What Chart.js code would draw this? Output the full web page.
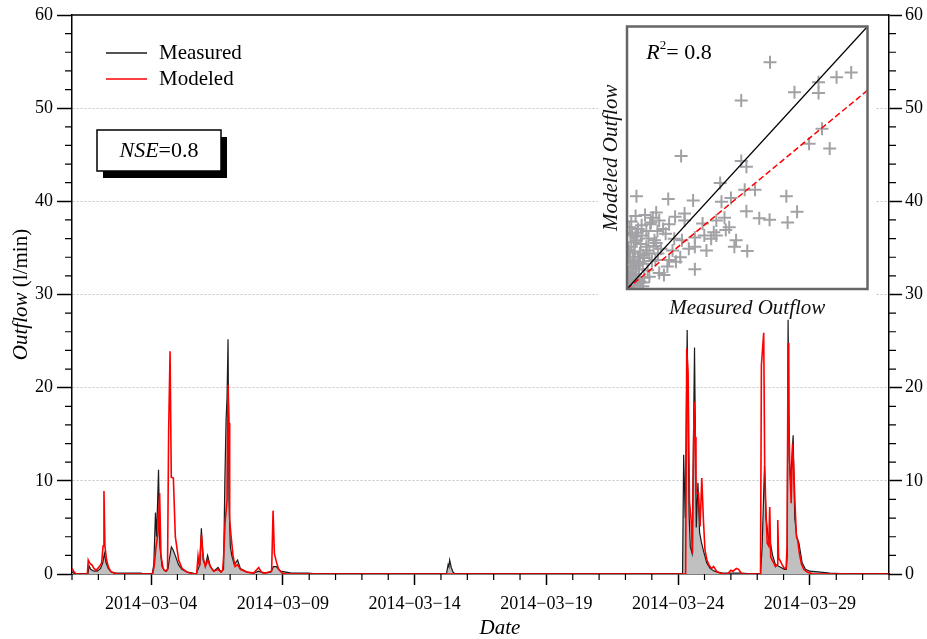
<!DOCTYPE html>
<html>
<head>
<meta charset="utf-8">
<script src="https://cdn.jsdelivr.net/npm/chart.js@4.4.1/dist/chart.umd.min.js"></script>
<style>
  html, body { margin: 0; padding: 0; background: #fff; }
  #wrap { position: relative; width: 927px; height: 639px; }
  #main { position: absolute; left: 0; top: 0; }
  #inset { position: absolute; left: 598px; top: 18px; background: #fff; }
</style>
</head>
<body>
<div id="wrap">
  <canvas id="main" width="927" height="639"></canvas>
  <canvas id="inset" width="278" height="301"></canvas>
</div>
<script>
// hours since 2014-03-01 00:00
const measuredHours = [0, 3, 14.5, 15.5, 17, 20, 23, 26, 28, 29.5, 31, 33, 36, 40, 62, 68,
  73, 74.5, 76, 77, 78.8, 80, 82, 84, 86, 87.5, 88.5, 90.5, 92, 94, 97, 100, 105, 110,
  113, 116.5, 117.8, 119.5, 121.5, 123.5, 126, 129, 133, 135.7, 138, 139.2, 140.3, 141.2, 142.1,
  143, 144.2, 145.7, 147.8, 150.8, 153.3, 159.4, 165.4, 170, 174.5, 181, 183.5, 186, 190, 200, 215, 225,
  341, 342.5, 343.2, 343.9, 345.4, 347, 349,
  556, 557, 558.5, 560.2, 562, 563.1, 564.7, 566.9, 568.5, 570, 571.5, 573, 575, 578, 581, 585, 592, 600, 610, 620,
  627, 628.5, 630.6, 632, 634, 636, 638, 640.6, 644, 648.8, 650.5, 651.3, 652.1, 653.3, 654.4, 656.7,
  658.2, 660, 662, 664.9, 667.9, 672, 681.5, 690, 700, 706, 744];
const measuredFlow = [0.2, 0, 0, 0.9, 0.5, 0.3, 0.3, 0.6, 1.2, 2.2, 1.2, 0.6, 0.2, 0.1, 0.1, 0,
  0, 1.0, 6.6, 4.0, 11.2, 3.0, 0.8, 0.4, 0.3, 0.6, 1.5, 2.9, 2.6, 2.0, 1.0, 0.5, 0.2, 0.1,
  0, 1.0, 4.9, 1.5, 0.9, 2.0, 0.8, 0.3, 0.7, 0.2, 0.5, 9.9, 16.5, 19.0, 25.2,
  8.0, 2.9, 1.9, 1.0, 1.5, 0.6, 0.2, 0.1, 0.3, 0.1, 0.2, 0.8, 0.8, 0.3, 0.1, 0.1, 0,
  0, 1.0, 0.8, 1.5, 0.7, 0.2, 0,
  0, 12.8, 6.0, 26.2, 6.2, 2.9, 2.2, 24.3, 5.0, 9.8, 4.5, 3.5, 2.5, 1.2, 0.6, 0.3, 0.1, 0.1, 0.1, 0,
  0, 3.0, 11.6, 6.0, 4.0, 3.3, 2.0, 1.0, 0.8, 0.5, 0.5, 2.0, 27.3, 12.2, 9.8, 14.9,
  6.0, 4.0, 3.3, 1.2, 0.5, 0.3, 0.2, 0.1, 0.05, 0, 0];

const modeledHours = [0, 2, 4, 14, 14.8, 16.5, 18, 20, 22, 25, 27, 28.3, 29.1, 30, 31.5, 33, 35, 38, 42,
  73.5, 75, 76.5, 78.5, 79.8, 81, 83, 85, 87, 88, 89.3, 90.4, 92.3, 94.1, 97.1, 100.2, 104.7, 110,
  113.5, 114.8, 116, 117.8, 119.6, 121.4, 123.5, 126, 129, 133, 135.7, 137.2, 138.1, 139.4, 141.2, 142.1,
  143, 143.6, 144.6, 146.6, 148.5, 150.8, 153.3, 159.4, 165.4, 170, 172.5, 176, 181.8, 183.1, 184.3,
  186.1, 188.2, 191.3, 195,
  558.8, 559.8, 561, 562.3, 563.8, 565, 566.5, 567.6, 568.2, 570.5, 572, 573.5, 575, 576.4, 578.2,
  580.3, 582.5, 584.3, 587.5, 593, 597, 600, 602, 605, 607, 610,
  627, 627.8, 629.9, 630.8, 631.9, 633.1, 634.5, 635.4, 636.3, 639, 640.6, 642.2, 642.7, 643.5, 645,
  646.6, 648.8, 650.3, 651.2, 652.1, 652.7, 653.6, 654.9, 656.2, 657.3, 658.2, 659.7, 660.9, 662.4,
  664.2, 666.4, 669.4, 675, 744];
const modeledFlow = [0.6, 0.2, 0, 0, 1.5, 1.1, 1.0, 0.6, 0.4, 0.8, 1.2, 3.0, 8.9, 3.0, 1.5, 0.8, 0.3, 0.1, 0,
  0, 1.0, 2.9, 4.5, 8.7, 2.0, 0.6, 0.3, 0.5, 15.3, 23.9, 10.4, 10.3, 4.0, 1.5, 0.6, 0.2, 0,
  0, 1.9, 0.8, 4.2, 1.7, 0.8, 1.5, 0.8, 0.3, 0.5, 0.2, 0.4, 1.9, 5.5, 7.9, 20.3,
  16.2, 5.8, 4.4, 2.0, 0.8, 1.0, 0.5, 0.2, 0.1, 0.7, 0.2, 0.1, 0.3, 6.8, 2.2,
  1.3, 0.5, 0.1, 0,
  0, 24.2, 21.6, 7.8, 5.8, 2.2, 18.5, 14.7, 8.7, 8.7, 5.1, 10.3, 5.8, 2.6, 1.5,
  0.9, 0.6, 0.8, 0.2, 0, 0, 0.4, 0.3, 0.6, 0.5, 0,
  0, 22.4, 25.9, 11.5, 6.9, 3.3, 3.0, 7.2, 1.8, 1.2, 0.8, 1.0, 5.8, 1.7, 1.4,
  1.0, 0.6, 0.6, 3.0, 24.8, 17.2, 11.9, 7.6, 14.0, 11.2, 8.1, 4.0, 3.6, 2.2,
  1.1, 0.5, 0.2, 0, 0];

const dateTickHours = [72, 192, 312, 432, 552, 672];
const dateLabels = ['2014\u221203\u221204', '2014\u221203\u221209', '2014\u221203\u221214',
  '2014\u221203\u221219', '2014\u221203\u221224', '2014\u221203\u221229'];

// inset: measured vs modeled outflow
const scatterMeasured = [16.65, 26.1, 24.4, 22.3, 19.5, 22.3, 13.3, 22.7, 21.2, 23.6,
  6.3, 13.3, 13.9, 10.85, 13.7, 14.9, 18.55, 1.1, 4.8, 7.7,
  11.0, 12.1, 13.9, 19.8, 15.4, 16.6, 18.7, 3.4, 3.0, 3.75,
  6.7, 6.7, 8.8, 10.4, 11.35, 11.5, 10.1, 9.0, 7.9, 6.4,
  5.5, 4.5, 2.25, 1.7, 12.7, 14.0, 12.5, 9.25, 7.9, 6.2,
  7.2, 4.9, 7.9, 3.75, 4.3, 2.6, 1.5, 0.7, 0.5, 1.1,
  2.6, 0.7, 1.85, 0.35, 0.15, 0.9, 3.3, 3.95, 3.2, 3.55,
  5.3, 5.7, 2.4, 4.7, 0.5, 1.1, 1.85, 0.25, 0.4, 1.5,
  2.25, 1.3, 2.8, 10.4, 9.8, 11.9,
  0.2, 0.6, 1.0, 0.3, 0.8, 1.3, 0.5, 0.2, 1.2, 2.0, 0.9, 1.6, 0.4, 2.0, 2.9, 1.4, 0.3, 0.6, 0.2, 1.0,
  0.1, 0.4, 0.7, 1.1, 1.5, 1.9, 2.3, 0.3, 0.8, 1.2, 1.7, 2.5, 3.1, 3.6, 4.2, 0.5, 1.0, 2.1, 2.7, 3.4,
  0.15, 0.9, 1.8, 4.9, 5.6];
const scatterModeled = [24.2, 23.1, 22.6, 22.05, 21.0, 20.9, 20.1, 17.1, 15.5, 15.0,
  14.2, 13.65, 13.05, 11.3, 10.6, 10.6, 9.9, 9.9, 9.6, 9.45,
  9.3, 9.7, 8.3, 8.25, 7.55, 7.4, 7.1, 8.15, 7.6, 7.3,
  8.05, 7.3, 7.0, 7.3, 7.6, 6.3, 6.05, 5.7, 5.5, 5.2,
  5.35, 5.9, 6.2, 5.7, 5.2, 4.05, 4.5, 4.1, 4.5, 3.4,
  4.3, 3.1, 2.1, 1.7, 1.5, 1.3, 0.8, 3.4, 4.5, 5.2,
  3.8, 2.4, 2.7, 1.3, 0.6, 0.45, 3.1, 4.3, 5.2, 6.2,
  4.1, 2.9, 2.0, 2.4, 1.85, 1.0, 0.3, 0.3, 3.1, 3.8,
  4.5, 6.4, 7.1, 5.7, 5.35, 6.6,
  1.8, 2.2, 1.6, 2.8, 3.0, 3.4, 0.9, 0.2, 0.5, 1.2, 4.0, 4.8, 5.8, 3.3, 3.0, 2.1, 6.6, 6.0, 4.2, 5.6,
  0.6, 1.1, 1.4, 2.5, 2.9, 3.6, 4.1, 3.9, 5.0, 6.0, 6.8, 5.4, 4.6, 3.8, 6.4, 7.2, 7.8, 7.9, 6.9, 4.9,
  4.0, 2.9, 0.7, 6.9, 7.7];
const insetMax = 28;
const fitSlope = 0.757;

const serif = "'Liberation Serif', 'Times New Roman', serif";
Chart.defaults.font.family = serif;
Chart.defaults.color = '#000';

function mixedText(ctx, parts, cx, cy) {
  let total = 0;
  parts.forEach(p => {
    ctx.font = (p.italic ? 'italic ' : '') + p.size + 'px ' + serif;
    p.w = ctx.measureText(p.text).width;
    total += p.w;
  });
  let x = cx - total / 2;
  ctx.textAlign = 'left';
  ctx.textBaseline = 'middle';
  parts.forEach(p => {
    ctx.font = (p.italic ? 'italic ' : '') + p.size + 'px ' + serif;
    ctx.fillText(p.text, x, cy + (p.dy || 0));
    x += p.w;
  });
}

const mainDecor = {
  id: 'mainDecor',
  afterDraw(chart) {
    const { ctx, chartArea: a, scales: { x, y } } = chart;
    ctx.save();
    ctx.strokeStyle = '#000';
    ctx.lineWidth = 1.5;
    ctx.beginPath();
    ctx.moveTo(a.left, a.top);
    ctx.lineTo(a.right, a.top);
    ctx.stroke();

    // minor ticks
    ctx.lineWidth = 1.2;
    ctx.beginPath();
    for (let h = 0; h <= 744; h += 24) {
      if (dateTickHours.includes(h)) continue;
      const px = x.getPixelForValue(h);
      ctx.moveTo(px, a.bottom);
      ctx.lineTo(px, a.bottom + 6);
    }
    for (let v = 2; v < 60; v += 2) {
      if (v % 10 === 0) continue;
      const py = y.getPixelForValue(v);
      ctx.moveTo(a.left - 7, py);
      ctx.lineTo(a.left, py);
      ctx.moveTo(a.right, py);
      ctx.lineTo(a.right + 7, py);
    }
    ctx.stroke();

    // legend
    const items = [chart.data.datasets[1], chart.data.datasets[0]];
    items.forEach((ds, i) => {
      const ly = 53 + i * 26;
      ctx.strokeStyle = ds.borderColor;
      ctx.lineWidth = 1.5;
      ctx.beginPath();
      ctx.moveTo(106, ly);
      ctx.lineTo(147, ly);
      ctx.stroke();
      ctx.fillStyle = '#000';
      ctx.font = '21px ' + serif;
      ctx.textAlign = 'left';
      ctx.textBaseline = 'middle';
      ctx.fillText(ds.label, 159, ly);
    });

    // NSE box
    ctx.fillStyle = '#000';
    ctx.fillRect(103, 137, 124, 41);
    ctx.fillStyle = '#fff';
    ctx.fillRect(97, 130, 124, 41);
    ctx.strokeStyle = '#000';
    ctx.lineWidth = 1.5;
    ctx.strokeRect(97, 130, 124, 41);
    ctx.fillStyle = '#000';
    mixedText(ctx, [{ text: 'NSE', italic: true, size: 22 }, { text: '=0.8', size: 22 }], 159, 151);

    // axis titles
    mixedText(ctx, [{ text: 'Date', italic: true, size: 21 }], 500, 628);
    ctx.translate(21, (a.top + a.bottom) / 2);
    ctx.rotate(-Math.PI / 2);
    mixedText(ctx, [{ text: 'Outflow', italic: true, size: 21 }, { text: ' (l/min)', size: 21 }], 0, 0);
    ctx.restore();
  }
};

new Chart(document.getElementById('main'), {
  type: 'line',
  data: {
    datasets: [
      {
        label: 'Modeled',
        data: modeledHours.map((h, i) => ({ x: h, y: modeledFlow[i] })),
        borderColor: '#ff0000',
        borderWidth: 1.6,
        pointRadius: 0,
        fill: false
      },
      {
        label: 'Measured',
        data: measuredHours.map((h, i) => ({ x: h, y: measuredFlow[i] })),
        borderColor: '#1a1a1a',
        borderWidth: 1.2,
        backgroundColor: '#c0c0c0',
        pointRadius: 0,
        fill: 'origin'
      }
    ]
  },
  options: {
    responsive: false,
    animation: false,
    layout: { padding: { top: 15, left: 0, right: 0, bottom: 0 } },
    plugins: { legend: { display: false }, tooltip: { enabled: false } },
    scales: {
      x: {
        type: 'linear',
        position: 'bottom',
        min: 0,
        max: 744,
        z: 1,
        afterFit: s => { s.height = 65; },
        ticks: {
          stepSize: 24,
          autoSkip: false,
          maxRotation: 0,
          padding: 8,
          font: { size: 18 },
          callback: value => {
            const i = dateTickHours.indexOf(value);
            return i >= 0 ? dateLabels[i] : '';
          }
        },
        grid: {
          drawOnChartArea: false,
          tickLength: 11,
          tickWidth: 1.5,
          tickBorderDash: [],
          tickColor: ctx => dateTickHours.includes(ctx.tick.value) ? '#000' : 'rgba(0,0,0,0)'
        },
        border: { color: '#000', width: 1.5 }
      },
      y: {
        position: 'left',
        min: 0,
        max: 60,
        afterFit: s => { s.width = 72; },
        ticks: { stepSize: 10, padding: 4, font: { size: 18 } },
        grid: {
          color: ctx => (ctx.tick.value === 0 || ctx.tick.value === 60) ? 'rgba(0,0,0,0)' : '#c4c4c4',
          lineWidth: 1,
          tickLength: 15,
          tickWidth: 1.5,
          tickColor: '#000',
          tickBorderDash: []
        },
        border: { color: '#000', width: 1.5, dash: [2, 2] }
      },
      y2: {
        position: 'right',
        min: 0,
        max: 60,
        afterFit: s => { s.width = 38; },
        ticks: { stepSize: 10, padding: 3, font: { size: 18 } },
        grid: {
          drawOnChartArea: false,
          tickLength: 13,
          tickWidth: 1.5,
          tickColor: '#000',
          tickBorderDash: []
        },
        border: { color: '#000', width: 1.5 }
      }
    }
  },
  plugins: [mainDecor]
});

const insetDecor = {
  id: 'insetDecor',
  afterDraw(chart) {
    const { ctx, chartArea: a } = chart;
    ctx.save();
    ctx.strokeStyle = '#666';
    ctx.lineWidth = 2.5;
    ctx.strokeRect(a.left, a.top, a.right - a.left, a.bottom - a.top);
    ctx.fillStyle = '#000';
    mixedText(ctx, [
      { text: 'R', italic: true, size: 22 },
      { text: '2', size: 13, dy: -7 },
      { text: '= 0.8', size: 22 }
    ], 81, 35);
    ctx.restore();
  }
};

new Chart(document.getElementById('inset'), {
  type: 'scatter',
  data: {
    datasets: [
      {
        data: [{ x: 0, y: 0 }, { x: insetMax, y: insetMax }],
        showLine: true,
        borderColor: '#000',
        borderWidth: 1.2,
        pointRadius: 0
      },
      {
        data: [{ x: 0, y: 0 }, { x: insetMax, y: insetMax * fitSlope }],
        showLine: true,
        borderColor: '#ff0000',
        borderWidth: 1.5,
        borderDash: [6, 3],
        pointRadius: 0
      },
      {
        data: scatterMeasured.map((m, i) => ({ x: m, y: scatterModeled[i] })),
        pointStyle: 'cross',
        pointRadius: 6.5,
        borderWidth: 2,
        borderColor: '#a2a2a6',
        backgroundColor: '#a2a2a6',
        clip: 0
      }
    ]
  },
  options: {
    responsive: false,
    animation: false,
    layout: { padding: { top: 5, right: 3, left: 0, bottom: 0 } },
    plugins: { legend: { display: false }, tooltip: { enabled: false } },
    scales: {
      x: {
        min: 0,
        max: insetMax,
        afterFit: s => { s.height = 30; },
        ticks: { display: false },
        grid: { display: false },
        border: { display: false },
        title: {
          display: true,
          text: 'Measured Outflow',
          color: '#111',
          padding: { top: 0, bottom: 0 },
          font: { size: 21, style: 'italic', lineHeight: 1 }
        }
      },
      y: {
        min: 0,
        max: insetMax,
        afterFit: s => { s.width = 29; },
        ticks: { display: false },
        grid: { display: false },
        border: { display: false },
        title: {
          display: true,
          text: 'Modeled Outflow',
          color: '#111',
          padding: { top: 3, bottom: 0 },
          font: { size: 21, style: 'italic', lineHeight: 1 }
        }
      }
    }
  },
  plugins: [insetDecor]
});
</script>
</body>
</html>
